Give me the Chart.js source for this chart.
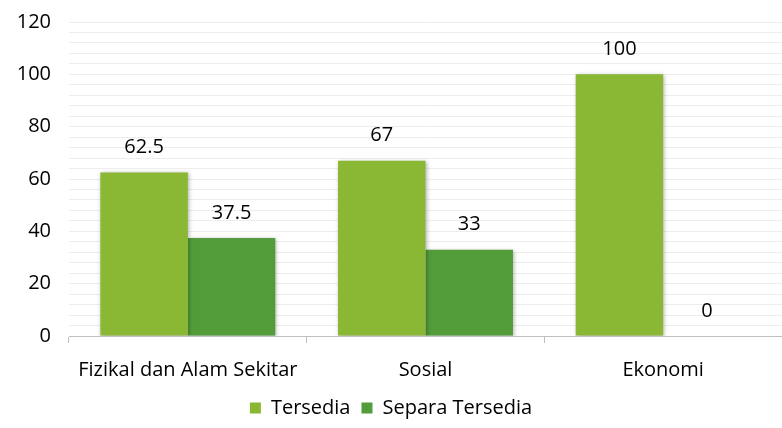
<!DOCTYPE html>
<html>
<head>
<meta charset="utf-8">
<script src="https://cdn.jsdelivr.net/npm/chart.js@4/dist/chart.umd.min.js"></script>
<style>
  html, body { margin: 0; padding: 0; background: #fff; }
  #wrap { width: 782px; height: 428px; }
</style>
</head>
<body>
<div id="wrap"><canvas id="chart" width="782" height="428"></canvas></div>
<script>
const categories = ['Fizikal dan Alam Sekitar', 'Sosial', 'Ekonomi'];
const seriesNames = ['Tersedia', 'Separa Tersedia'];
const tersedia = [62.5, 67, 100];
const separaTersedia = [37.5, 33, 0];
const yTicks = [0, 20, 40, 60, 80, 100, 120];

const FONT = '"Open Sans", "Noto Sans", sans-serif';
const FSIZE = 20;
const colors = ['#8ab734', '#529d3a'];

// value labels above each bar
const valueLabels = {
  id: 'valueLabels',
  afterDatasetsDraw(chart) {
    const ctx = chart.ctx;
    ctx.save();
    ctx.font = FSIZE + 'px ' + FONT;
    ctx.fillStyle = '#000';
    ctx.textAlign = 'center';
    ctx.textBaseline = 'middle';
    chart.data.datasets.forEach((ds, i) => {
      chart.getDatasetMeta(i).data.forEach((bar, j) => {
        ctx.fillText(String(ds.data[j]), bar.x, bar.y - 25);
      });
    });
    ctx.restore();
  }
};

// soft shadow like the original
const barShadow = {
  id: 'barShadow',
  beforeDatasetDraw(chart) {
    const ctx = chart.ctx;
    ctx.save();
    ctx.shadowColor = 'rgba(0,0,0,0.3)';
    ctx.shadowBlur = 4;
    ctx.shadowOffsetX = 1;
    ctx.shadowOffsetY = 1;
  },
  afterDatasetDraw(chart) {
    chart.ctx.restore();
  }
};

new Chart(document.getElementById('chart').getContext('2d'), {
  type: 'bar',
  data: {
    labels: categories,
    datasets: [
      { label: seriesNames[0], data: tersedia, backgroundColor: colors[0] },
      { label: seriesNames[1], data: separaTersedia, backgroundColor: colors[1] }
    ]
  },
  options: {
    responsive: false,
    animation: false,
    layout: { padding: 0 },
    datasets: {
      bar: { categoryPercentage: 0.736, barPercentage: 1.0 }
    },
    scales: {
      x: {
        grid: {
          display: true,
          offset: true,
          drawOnChartArea: false,
          drawTicks: true,
          tickLength: 7,
          color: '#bfbfbf'
        },
        border: { display: true, color: '#bfbfbf', width: 1 },
        ticks: { color: '#000', font: { family: FONT, size: FSIZE }, padding: 15 },
        afterFit(scale) { scale.height = 51; }
      },
      y: {
        min: 0,
        max: 120,
        ticks: {
          stepSize: 4,
          autoSkip: false,
          color: '#000',
          font: { family: FONT, size: FSIZE },
          padding: 18,
          callback: v => yTicks.includes(v) ? v : ''
        },
        grid: { color: '#ededed', drawTicks: false },
        border: { display: false },
        afterFit(scale) {
          scale.width = 69;
          scale.paddingTop = 22;
          scale.paddingBottom = 0;
        }
      }
    },
    plugins: {
      legend: {
        position: 'bottom',
        labels: {
          boxWidth: 11,
          boxHeight: 11,
          color: '#000',
          padding: 11,
          font: { family: FONT, size: FSIZE }
        }
      },
      tooltip: { enabled: false }
    }
  },
  plugins: [barShadow, valueLabels]
});
</script>
</body>
</html>
